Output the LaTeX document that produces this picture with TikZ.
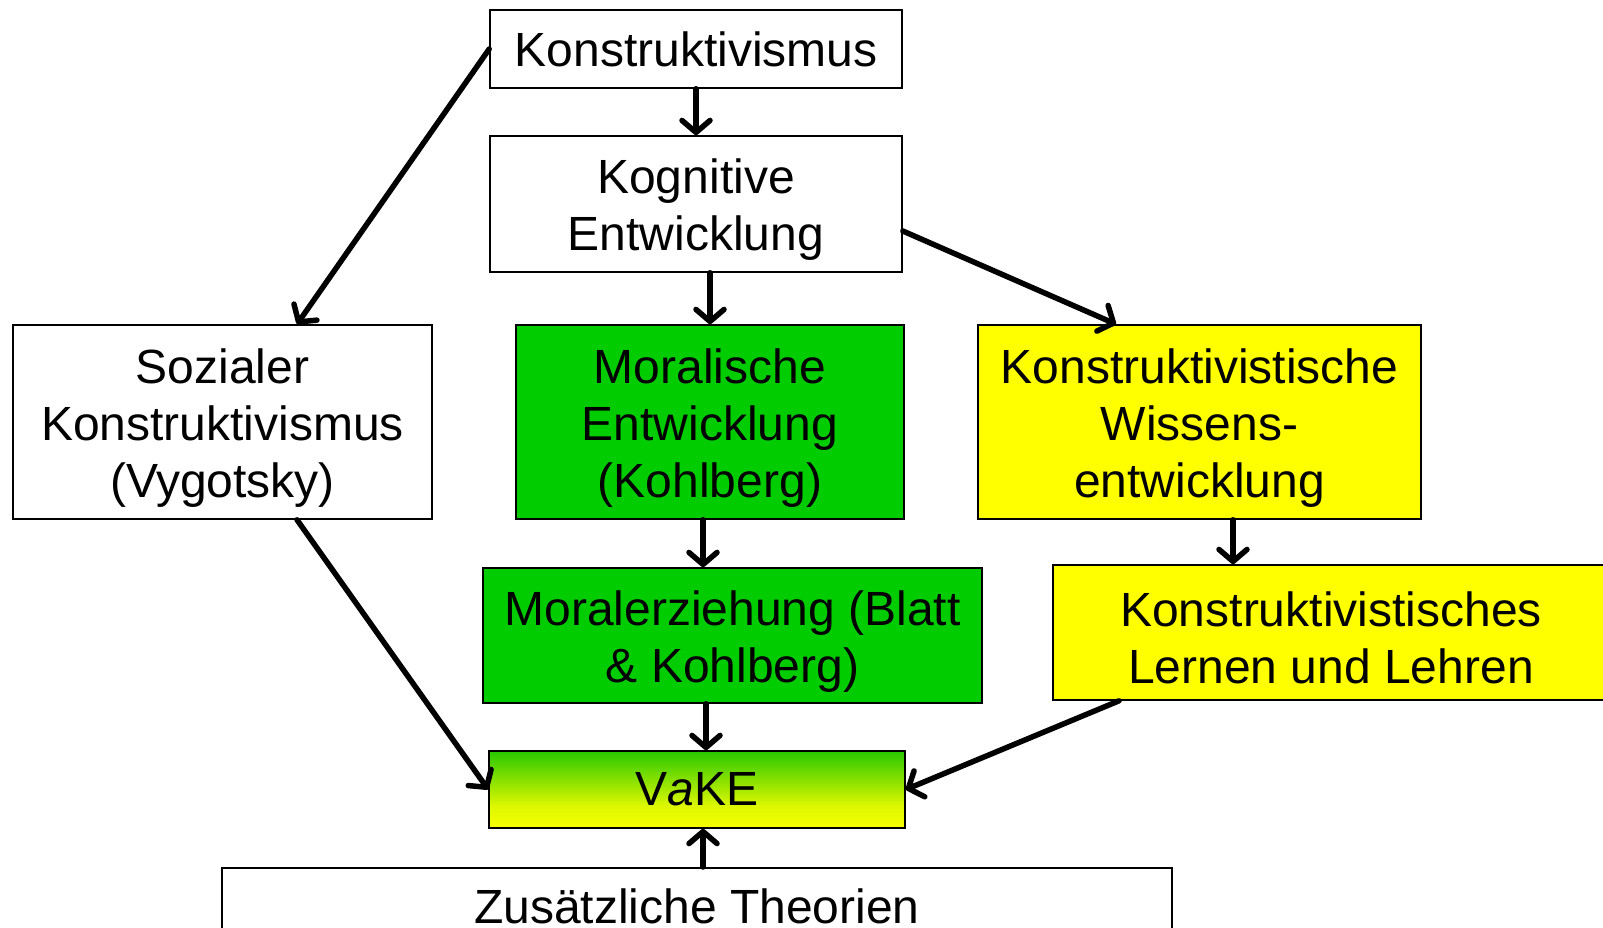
\documentclass[tikz,border=0pt]{standalone}
\usepackage{fontspec}
\setmainfont{Liberation Sans}
\usetikzlibrary{arrows.meta}
\definecolor{kgreen}{RGB}{0,204,0}
\definecolor{kyellow}{RGB}{255,255,0}
\definecolor{vtop}{RGB}{40,200,0}
\definecolor{vbot}{RGB}{250,255,0}
\pgfdeclareverticalshading{vakeshade}{100bp}{color(0bp)=(vbot); color(25bp)=(vbot); color(40bp)=(vbot!85!vtop); color(75bp)=(vtop); color(100bp)=(vtop)}
\newcommand\kup{\rule{0pt}{46pt}}
\begin{document}
\begin{tikzpicture}[x=1pt,y=-1pt,
  box/.style={draw=black, line width=1.6pt, inner sep=0pt, align=center,
    font=\fontsize{48}{57}\selectfont},
  arr/.style={line width=5.5pt, line cap=round, -{Straight Barb[length=12pt,width=28pt,round]}}]
\useasboundingbox (0,0) rectangle (1603,928);
\clip (0,0) rectangle (1603,928);
\fill[white] (0,0) rectangle (1603,928);
\node[box, minimum width=412pt, minimum height=78pt] (konst) at (696,49) {Konstruktivismus};
\node[box, minimum width=412pt, minimum height=136pt] (kog) at (696,204) {\kup Kognitive\\Entwicklung};
\node[box, minimum width=419pt, minimum height=194pt] (soz) at (222.5,422) {\kup Sozialer\\Konstruktivismus\\(Vygotsky)};
\node[box, fill=kgreen, minimum width=388pt, minimum height=194pt] (moral) at (710,422) {\kup Moralische\\Entwicklung\\(Kohlberg)};
\node[box, fill=kyellow, minimum width=443pt, minimum height=194pt] (wissen) at (1199.5,422) {\kup Konstruktivistische\\Wissens-\\entwicklung};
\node[box, fill=kgreen, minimum width=499pt, minimum height=135pt] (erz) at (732.5,635.5) {\kup Moralerziehung (Blatt\\\& Kohlberg)};
\node[box, fill=kyellow, minimum width=556pt, minimum height=135pt] (lernen) at (1331,632.5) {\kup Konstruktivistisches\\Lernen und Lehren};
\node[box, shading=vakeshade, minimum width=416pt, minimum height=77pt] (vake) at (697,789.5) {V\textit{a}KE};
\node[box, anchor=north, minimum width=950pt, text height=36pt, text depth=60pt, inner ysep=20pt] (zus) at (697,867) {Zusätzliche Theorien};

\draw[arr] (konst.south) -- (kog.north);
\draw[arr] (konst.west) -- ([xshift=74.5pt]soz.north);
\draw[arr] (kog.south -| moral.north) -- (moral.north);
\draw[arr] ([yshift=-27pt]kog.east) -- ([xshift=-83.5pt]wissen.north);
\draw[arr] ([xshift=-7pt]moral.south) -- ([xshift=-7pt]moral.south |- erz.north);
\draw[arr] ([xshift=33.5pt]wissen.south) -- ([xshift=33.5pt]wissen.south |- lernen.north);
\draw[arr] ([xshift=9pt]vake.north |- erz.south) -- ([xshift=9pt]vake.north);
\draw[arr] ([xshift=74.5pt]soz.south) -- (vake.west);
\draw[arr] ([xshift=-212pt]lernen.south) -- (vake.east);
\draw[arr] ([xshift=6pt]vake.south |- zus.north) -- ([xshift=6pt]vake.south);
\end{tikzpicture}
\end{document}
